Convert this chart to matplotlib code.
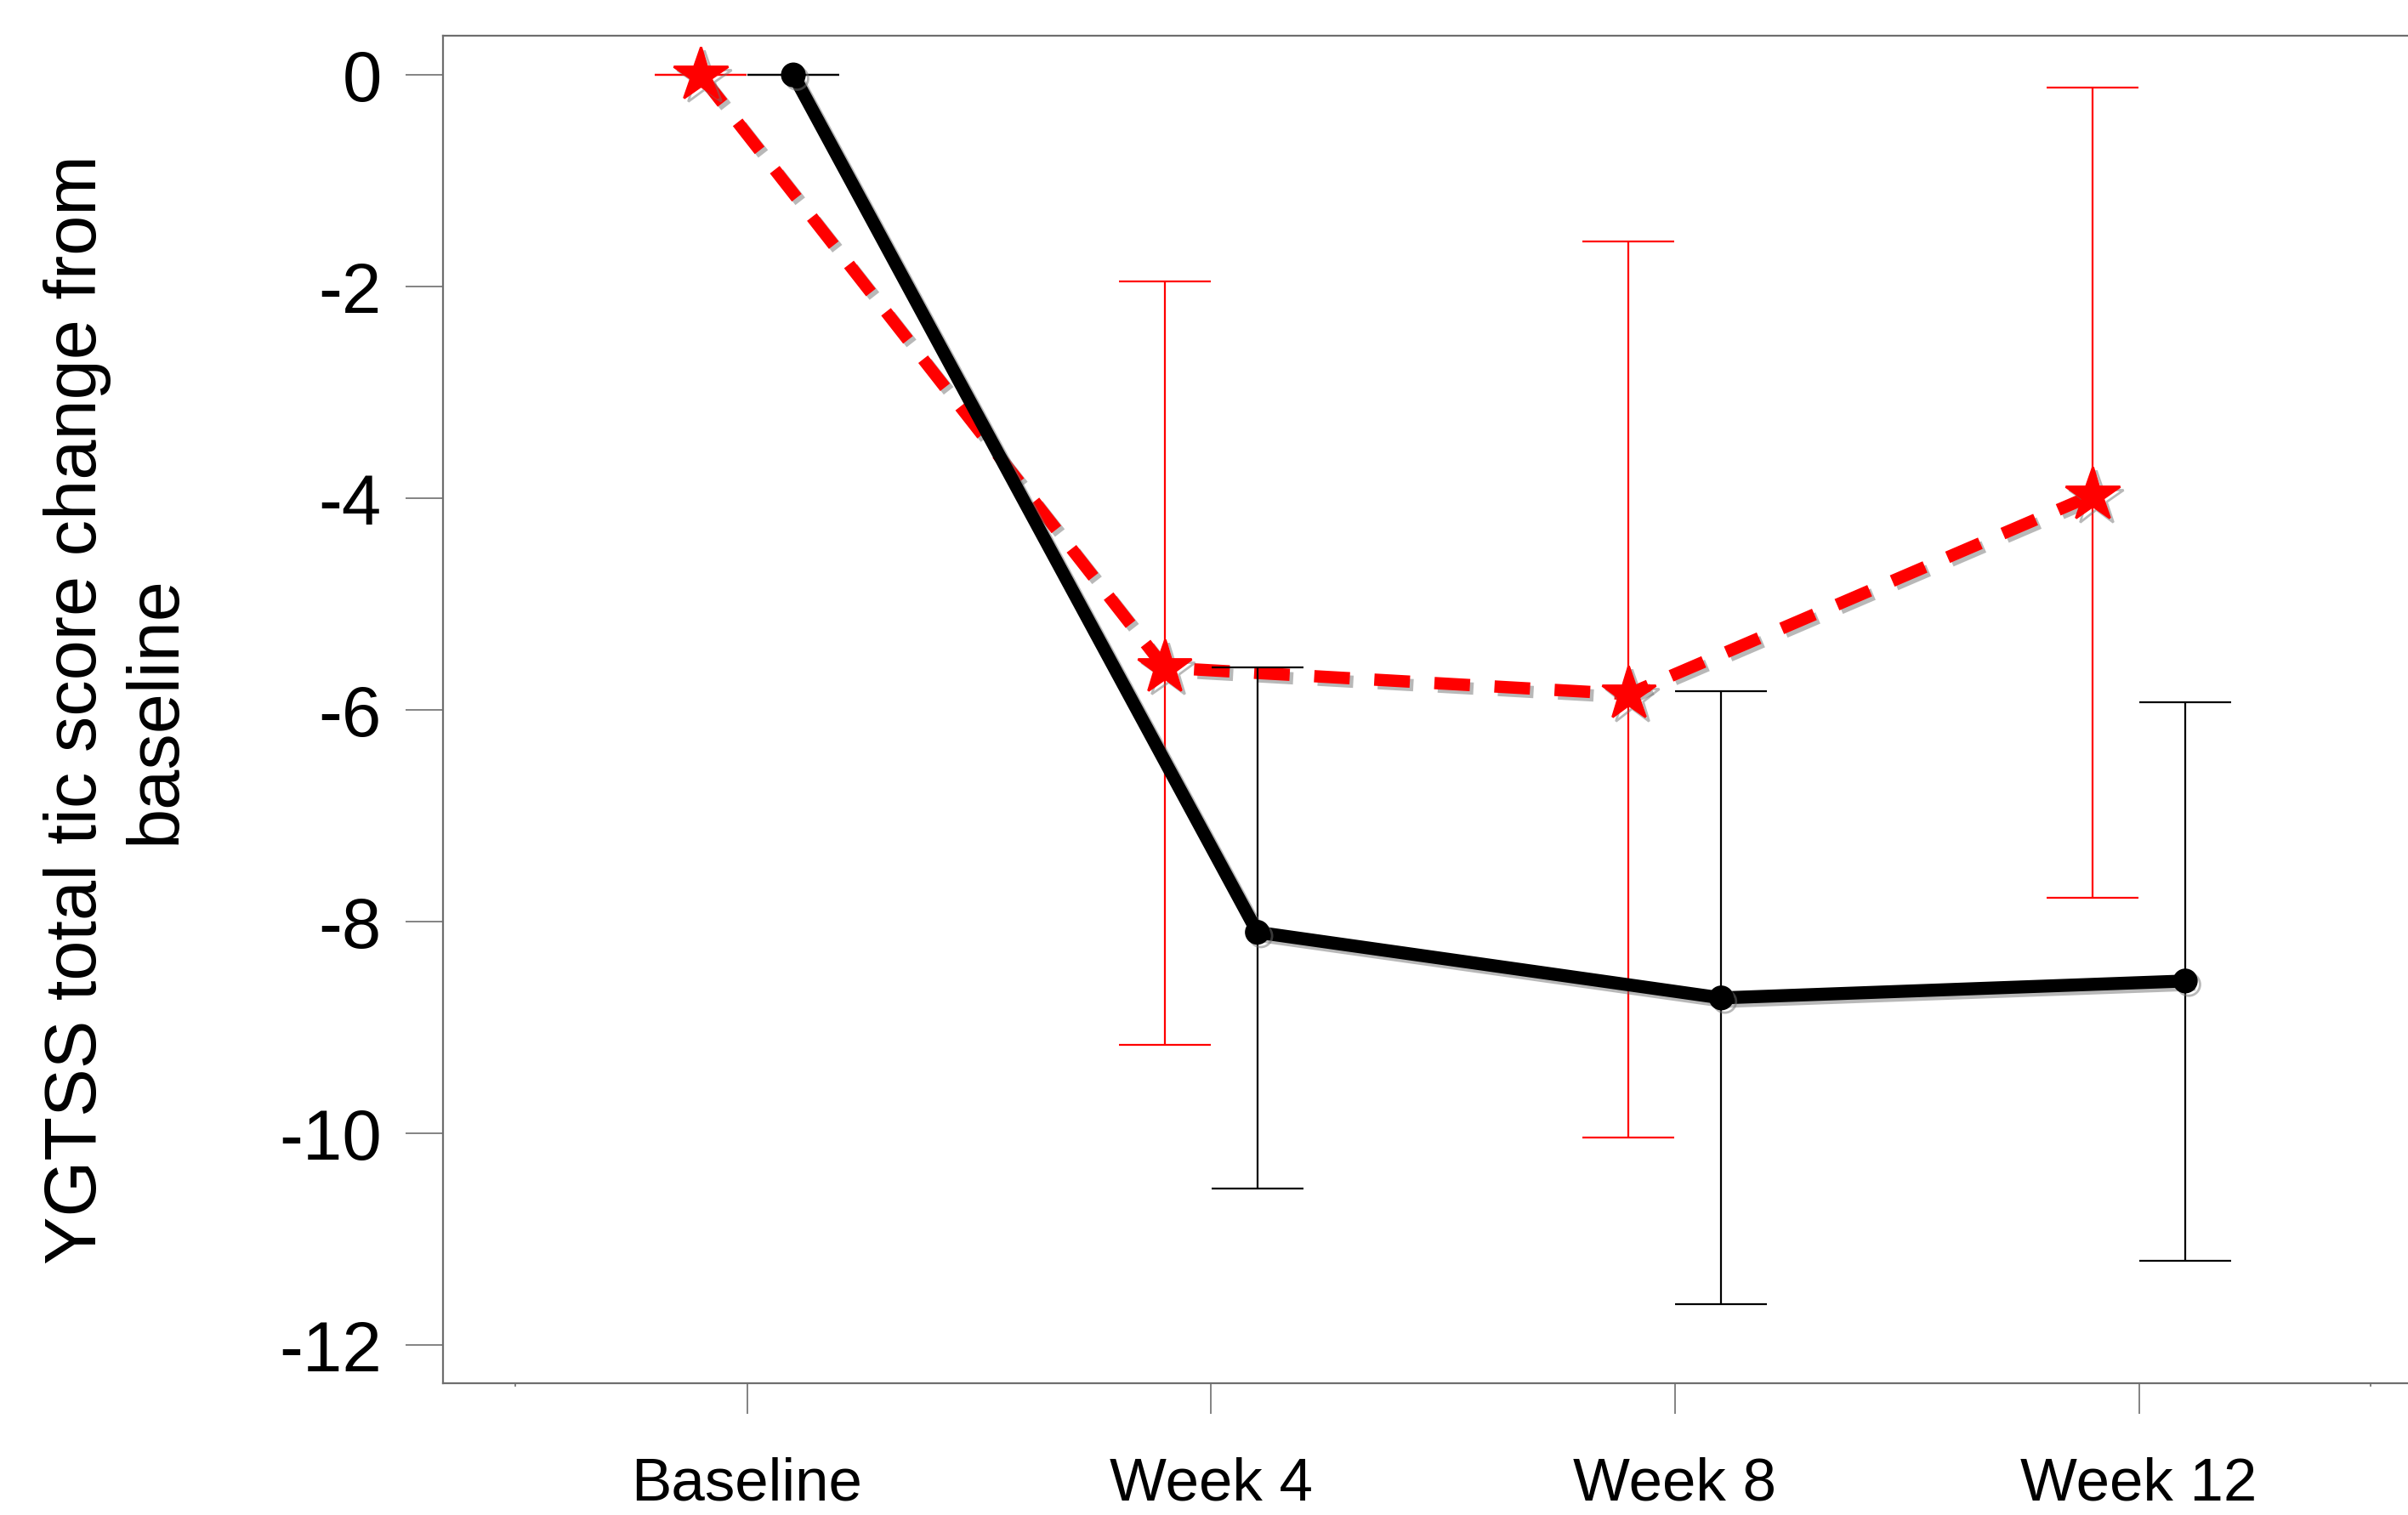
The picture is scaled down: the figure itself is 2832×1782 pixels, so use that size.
import matplotlib
matplotlib.use("Agg")
import matplotlib.pyplot as plt
import matplotlib.patheffects as pe
import numpy as np

plt.rcParams['font.family'] = ['Liberation Sans', 'DejaVu Sans']

visits = ["Baseline", "Week 4", "Week 8", "Week 12"]

# red dashed series (stars)
red_mean = [0, -5.60, -5.85, -3.97]
red_upper = [0, -1.95, -1.57, -0.12]
red_lower = [0, -9.16, -10.04, -7.77]

# black solid series (circles)
black_mean = [0, -8.10, -8.72, -8.56]
black_upper = [0, -5.60, -5.82, -5.93]
black_lower = [0, -10.52, -11.61, -11.20]

x = np.arange(len(visits))
shift = 0.1

fig = plt.figure(figsize=(14.16, 8.91), dpi=200)
ax = fig.add_axes([0.184, 0.087, 0.816, 0.8894])

shadow = [pe.SimpleLineShadow(offset=(1.5, -1.5), shadow_color='0.45', alpha=0.5), pe.Normal()]

rm = np.array(red_mean)
ax.errorbar(x - shift, rm, yerr=[rm - np.array(red_lower), np.array(red_upper) - rm],
            fmt='none', ecolor='red', elinewidth=0.8, capsize=19.5, capthick=0.8, zorder=2)
ax.plot(x - shift, rm, color='red', lw=5.2, linestyle=(0, (2.9, 2.0)), marker='*',
        markersize=24, markerfacecolor='red', markeredgecolor='red',
        path_effects=shadow, zorder=3)

bm = np.array(black_mean)
ax.errorbar(x + shift, bm, yerr=[bm - np.array(black_lower), np.array(black_upper) - bm],
            fmt='none', ecolor='black', elinewidth=0.8, capsize=19.5, capthick=0.8, zorder=4)
ax.plot(x + shift, bm, color='black', lw=5.5, marker='o', markersize=9.5,
        path_effects=shadow, zorder=5)

ax.set_xlim(-0.655, 3.58)
ax.set_ylim(-12.36, 0.37)
ax.set_xticks(x)
ax.set_xticklabels(visits)
ax.set_xticks([-0.5, 3.5], minor=True)
ax.set_yticks(np.arange(0, -13, -2))
ax.set_yticklabels([str(v) for v in range(0, -13, -2)])

for s in ['left', 'bottom', 'top']:
    ax.spines[s].set_color('#6e6e6e')
    ax.spines[s].set_linewidth(0.8)
ax.spines['right'].set_visible(False)

ax.tick_params(axis='x', which='major', length=13, width=0.6, color='#6e6e6e',
               labelsize=25.5, pad=18)
ax.tick_params(axis='x', which='minor', length=1.5, width=0.6, color='#6e6e6e')
ax.tick_params(axis='y', length=16, width=0.6, color='#6e6e6e', labelsize=30, pad=10)

fig.text(0.0486, 0.5314, "YGTSS total tic score change from\nbaseline", rotation=90,
         ha='center', va='center', multialignment='center', fontsize=30.5)

fig.savefig('out.png', dpi=200)
